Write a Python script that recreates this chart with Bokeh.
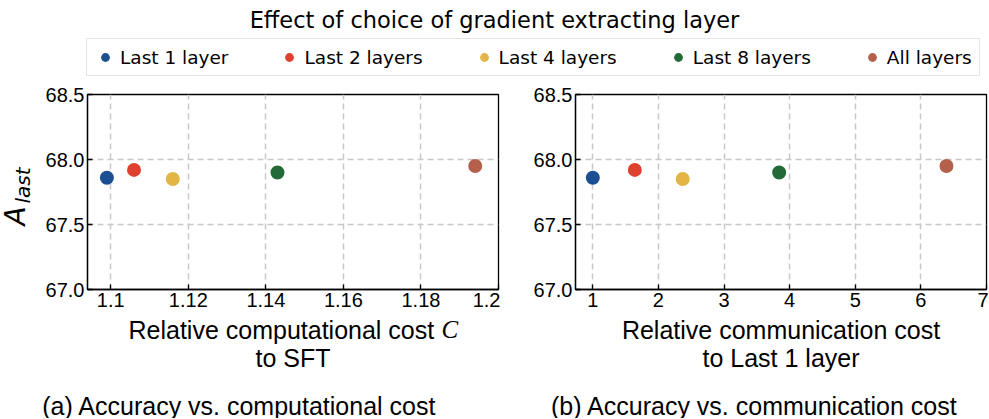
import math
import numpy as np
from bokeh.plotting import figure
from bokeh.layouts import column, row
from bokeh.models import Label, Legend, LegendItem, Range1d, FixedTicker
from bokeh.embed import file_html
from bokeh.resources import INLINE

# ---------------- data ----------------
configs = ["Last 1 layer", "Last 2 layers", "Last 4 layers", "Last 8 layers", "All layers"]
colors = ["#1b4f91", "#e0412f", "#e3b545", "#226b37", "#b5604b"]
comp_cost = [1.099, 1.106, 1.116, 1.143, 1.194]
comm_cost = [1.0, 1.64, 2.37, 3.84, 6.39]
acc_last = [67.86, 67.92, 67.85, 67.90, 67.95]

y_ticks = [67.0, 67.5, 68.0, 68.5]
y_tick_labels = ["67.0", "67.5", "68.0", "68.5"]
xa_ticks = [1.1, 1.12, 1.14, 1.16, 1.18, 1.2]
xa_tick_labels = ["1.1", "1.12", "1.14", "1.16", "1.18", "1.2"]
xb_ticks = [1, 2, 3, 4, 5, 6, 7]
xb_tick_labels = ["1", "2", "3", "4", "5", "6", "7"]

title_text = "Effect of choice of gradient extracting layer"
xa_label = ("Relative computational cost", "C", "to SFT")
xb_label = ("Relative communication cost", "to Last 1 layer")
captions = ("(a) Accuracy vs. computational cost", "(b) Accuracy vs. communication cost")

SANS = "Liberation Sans"
GRID = "#c8c8c8"


def strip(width, height):
    f = figure(width=width, height=height, min_border=0, x_axis_location=None,
               y_axis_location=None, toolbar_location=None, output_backend="svg",
               x_range=Range1d(0, 1), y_range=Range1d(0, 1))
    f.outline_line_color = None
    f.grid.visible = False
    return f


def text(f, x, y, s, size, font=SANS, align="center", style="normal", angle=0.0, baseline="alphabetic"):
    f.add_layout(Label(x=x, y=y, x_units="screen", y_units="screen", text=s, angle=angle,
                       text_font=font, text_font_style=style, text_font_size=size,
                       text_align=align, text_baseline=baseline, text_color="black"))


# ---------------- header (title + legend) ----------------
top = strip(988, 80)
text(top, 494, 61, title_text, "22.5px", font="DejaVu Sans", baseline="middle")
items = []
for name, c in zip(configs, colors):
    r = top.scatter(x=[np.nan], y=[np.nan], size=14, fill_color=c, line_color=None)
    items.append(LegendItem(label=name, renderers=[r]))
legend = Legend(items=items, orientation="horizontal", location=(86, 4),
                label_text_font="DejaVu Sans", label_text_font_size="18.5px",
                label_text_color="black",
                glyph_width=22, glyph_height=22, label_standoff=4, spacing=50,
                padding=7, margin=0, border_line_color="#cccccc", border_line_width=1,
                label_height=22)
top.add_layout(legend, "center")

# ---------------- y label strip ----------------
ylab = strip(40, 235)
text(ylab, 15, 64, "A", "28px", font="DejaVu Sans", align="left", style="italic", angle=math.pi / 2)
text(ylab, 22, 86, "last", "20px", font="DejaVu Sans", align="left", style="italic", angle=math.pi / 2)


def panel(xs, x_start, x_end, x_ticks, x_tick_labels, width, border_left, border_right):
    p = figure(width=width, height=235, min_border_left=border_left, min_border_right=border_right,
               min_border_top=14, min_border_bottom=26, toolbar_location=None,
               output_backend="svg", x_range=Range1d(x_start, x_end), y_range=Range1d(67.0, 68.5))
    p.outline_line_color = "black"
    p.outline_line_width = 1.3
    p.xaxis.ticker = FixedTicker(ticks=x_ticks)
    p.xaxis.major_label_overrides = dict(zip(x_ticks, x_tick_labels))
    p.yaxis.ticker = FixedTicker(ticks=y_ticks)
    p.yaxis.major_label_overrides = dict(zip(y_ticks, y_tick_labels))
    for ax in (p.xaxis, p.yaxis):
        ax.axis_line_color = "black"
        ax.axis_line_width = 1.3
        ax.major_tick_in = 5
        ax.major_tick_out = 0
        ax.major_tick_line_width = 1.3
        ax.minor_tick_line_color = None
        ax.major_label_text_font = SANS
        ax.major_label_text_font_size = "20px"
        ax.major_label_text_color = "black"
    p.xaxis.major_label_standoff = 3
    p.yaxis.major_label_standoff = 3
    for g in (p.xgrid, p.ygrid):
        g.grid_line_color = GRID
        g.grid_line_width = 1.5
        g.grid_line_dash = "6 4"
    p.scatter(x=xs, y=acc_last, size=14, fill_color=colors, line_color=None)
    return p


left = panel(comp_cost, 1.094, 1.2, xa_ticks, xa_tick_labels, 460, 47, 2)
right = panel(comm_cost, 0.736, 7.0, xb_ticks, xb_tick_labels, 488, 75, 2)

# ---------------- bottom strip: axis titles and captions ----------------
bot = strip(988, 103)
text(bot, 128, 89, xa_label[0], "25px", align="left")
text(bot, 441, 89, xa_label[1], "25px", font="Liberation Serif", align="left", style="italic")
text(bot, 292.5, 61, xa_label[2], "25px")
text(bot, 780.5, 89, xb_label[0], "25px")
text(bot, 780.5, 61, xb_label[1], "25px")
text(bot, 239, 13, captions[0], "25px")
text(bot, 754, 13, captions[1], "25px")

layout = column(top, row(ylab, left, right), bot)
open("out.html", "w").write(file_html(layout, INLINE))
